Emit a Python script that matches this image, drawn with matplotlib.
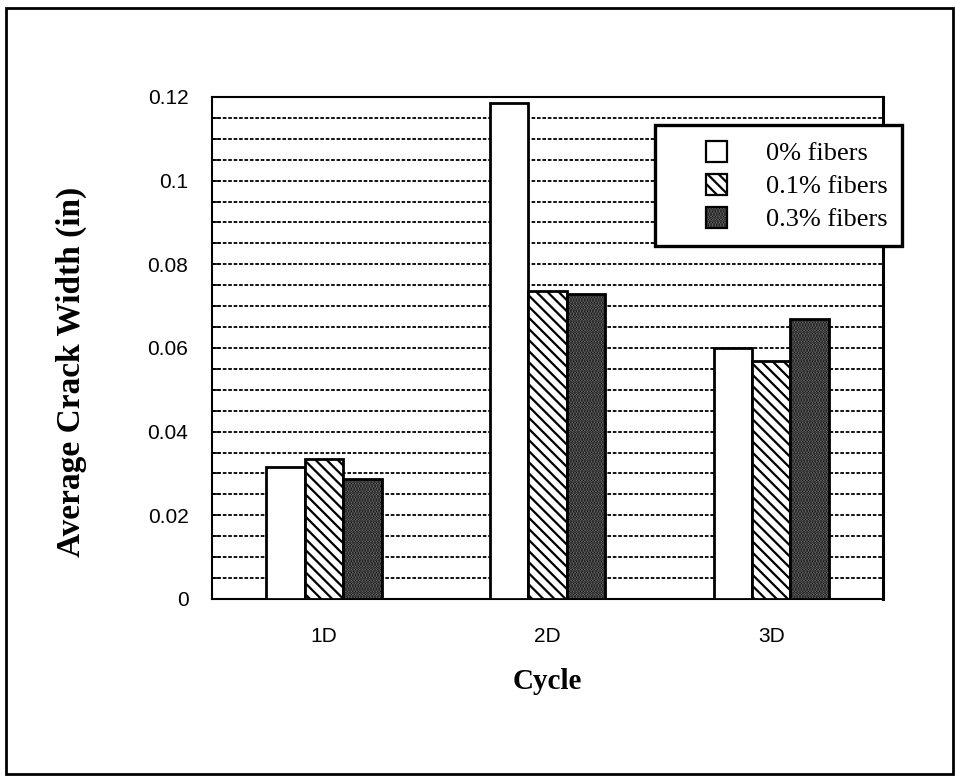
import numpy as np
import matplotlib
matplotlib.use("Agg")
import matplotlib.pyplot as plt
from matplotlib.patches import Rectangle
from matplotlib.legend_handler import HandlerPatch

# Data
cycles = ["1D", "2D", "3D"]
series_labels = ["0% fibers", "0.1% fibers", "0.3% fibers"]
fiber_0 = [0.0316, 0.1186, 0.0600]
fiber_01 = [0.0335, 0.0736, 0.0570]
fiber_03 = [0.0287, 0.0729, 0.0669]
y_ticks = [0, 0.02, 0.04, 0.06, 0.08, 0.1, 0.12]
y_tick_labels = ["0", "0.02", "0.04", "0.06", "0.08", "0.1", "0.12"]

plt.rcParams["hatch.linewidth"] = 1.6


def square_handle(legend, orig_handle, xdescent, ydescent, width, height, fontsize):
    # small square centred in the handle box
    side = 15
    cx = -xdescent + width / 2
    cy = -ydescent + height / 2
    return Rectangle((cx - side / 2, cy - side / 2), side, side)


fig = plt.figure(figsize=(9.56, 7.76), dpi=100)
ax = fig.add_axes([0.2218, 0.2281, 0.7019, 0.6469])

x = np.arange(len(cycles))
width = 0.172
styles = [
    dict(facecolor="white", hatch=None),
    dict(facecolor="white", hatch="\\\\\\"),
    dict(facecolor="#8c8c8c", hatch="......"),
]
bars = []
for i, (vals, st) in enumerate(zip([fiber_0, fiber_01, fiber_03], styles)):
    b = ax.bar(x + (i - 1) * width, vals, width, label=series_labels[i],
               edgecolor="black", linewidth=2.0, zorder=3, **st)
    bars.append(b)

ax.set_xlim(-0.5, 2.5)
ax.set_ylim(0, 0.12)
ax.set_yticks(y_ticks)
ax.set_yticklabels(y_tick_labels, fontsize=15, family="Liberation Sans")
ax.set_yticks(np.arange(0, 0.1201, 0.005), minor=True)
ax.set_xticks(x)
ax.set_xticklabels(cycles, fontsize=15, family="Liberation Sans")
ax.tick_params(axis="x", length=0, pad=20)
ax.tick_params(axis="y", which="both", direction="in", length=6, width=1.2, pad=17)
ax.yaxis.grid(True, which="both", linestyle=(0, (2, 1)), color="black", linewidth=1.3, zorder=0)
ax.set_axisbelow(True)
for s in ax.spines.values():
    s.set_linewidth(1.5)
ax.spines["right"].set_linewidth(2.2)

ax.set_ylabel("Average Crack Width (in)", fontsize=24, fontweight="bold",
              family="Liberation Serif")
ax.yaxis.set_label_coords(-0.187, 0.452)
ax.set_xlabel("Cycle", fontsize=21, fontweight="bold", family="Liberation Serif", labelpad=16)

handles = [b.patches[0] for b in bars]
leg = ax.legend(handles, series_labels, loc="upper right", bbox_to_anchor=(1.028, 0.944),
                borderaxespad=0, fancybox=False, framealpha=1, edgecolor="black",
                borderpad=0.55, labelspacing=0.27, handlelength=3.6, handleheight=1.0,
                handletextpad=0.05,
                handler_map={Rectangle: HandlerPatch(patch_func=square_handle)},
                prop={"family": "Liberation Serif", "size": 19})
leg.get_frame().set_linewidth(2.4)
leg.set_zorder(5)
for h in leg.legend_handles:
    h.set_linewidth(1.6)

# outer frame around the whole figure
fig.patches.append(Rectangle((0.0063, 0.0026), 0.9906, 0.987, transform=fig.transFigure,
                             fill=False, edgecolor="black", linewidth=2.0))

fig.savefig("out.png", dpi=100)
